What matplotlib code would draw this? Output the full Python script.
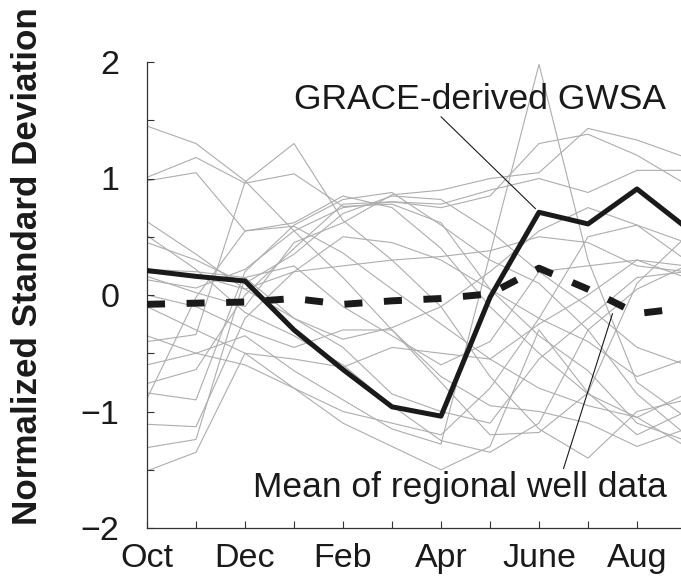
import numpy as np
import matplotlib.pyplot as plt

plt.rcParams['font.family'] = ['Liberation Sans', 'DejaVu Sans']

# months Oct..Sep, labels on every other tick
months = ['Oct', 'Nov', 'Dec', 'Jan', 'Feb', 'Mar', 'Apr', 'May', 'June', 'Jul', 'Aug', 'Sep']
month_labels = ['Oct', '', 'Dec', '', 'Feb', '', 'Apr', '', 'June', '', 'Aug', '']

# GRACE-derived groundwater storage anomaly (normalized)
grace = [0.21, 0.16, 0.12, -0.30, -0.64, -0.96, -1.04, -0.02, 0.71, 0.61, 0.91, 0.58]

# mean of the regional wells
well_mean = [-0.08, -0.07, -0.06, -0.03, -0.08, -0.05, -0.03, 0.01, 0.23, 0.05, -0.16, -0.11]

# individual wells (normalized)
wells = [
    [1.45, 1.30, 0.98, 0.55, 0.15, -0.30, -0.70, -0.95, -1.00, -1.10, -1.30, -1.15],
    [1.01, 1.18, 0.96, 1.04, 0.76, 0.78, 0.62, 0.05, -0.35, -0.65, -1.10, -1.25],
    [0.98, 1.05, 0.55, 0.59, 0.36, 0.05, -0.25, -0.55, -0.80, -0.95, -1.05, -0.85],
    [0.63, 0.35, 0.05, -0.20, -0.45, -0.85, -1.00, -1.10, -0.55, -0.20, 0.15, 0.20],
    [0.51, 0.22, -0.15, -0.35, -0.60, -0.95, -1.25, -1.35, -1.10, -0.30, 0.05, 0.25],
    [0.22, 0.20, 0.15, -0.20, -0.38, -0.28, -0.10, 0.20, 0.55, 0.75, 0.60, 0.45],
    [0.19, 0.17, 0.05, 0.20, 0.25, 0.30, 0.33, 0.38, 0.50, 0.45, 0.25, 0.20],
    [0.16, 0.02, -0.10, 0.45, 0.62, 0.86, 0.90, 1.00, 1.05, 1.43, 1.33, 1.18],
    [0.13, 0.06, 0.22, 0.55, 0.75, 0.80, 0.78, 0.90, 1.00, 0.88, 1.07, 1.07],
    [-0.10, -0.30, -0.50, -0.55, -0.62, -0.45, -0.50, -0.55, -0.25, 0.00, 0.30, 0.15],
    [-0.40, -0.34, 0.97, 1.30, 0.64, 0.30, -0.10, -0.70, -1.15, -1.40, -1.00, -0.90],
    [-0.60, -0.50, -0.35, -0.65, -0.90, -1.15, -1.28, 0.35, 1.98, 0.30, -0.75, -1.05],
    [-0.76, -0.64, 0.00, 0.40, 0.78, 0.80, 0.75, 0.85, 1.30, 1.38, 1.20, 0.95],
    [-0.84, -0.90, 0.20, 0.60, 0.82, 0.88, 0.60, 0.30, 0.10, -0.30, -0.85, -1.20],
    [-0.89, -0.02, 0.55, 0.62, 0.85, 0.75, 0.40, -0.10, -0.50, -0.85, -1.05, -1.30],
    [-1.11, -1.13, -0.20, 0.20, 0.50, 0.45, 0.30, 0.05, -0.20, -0.40, -0.70, -0.55],
    [-1.31, -1.24, 0.15, 0.25, -0.10, -0.35, -0.60, -0.40, 0.20, 0.25, 0.30, 0.25],
    [-1.51, -1.35, -0.50, -0.80, -1.10, -1.30, -1.50, -1.30, -0.30, -0.84, 0.10, 0.50],
    [-0.35, -0.50, -0.60, -0.80, -1.00, -1.10, -1.20, -0.80, -0.20, 0.50, 0.60, 0.30],
    [0.00, -0.10, -0.30, -0.45, -0.30, -0.30, -0.75, -1.20, -1.18, -0.84, -1.20, -1.00],
    [0.45, 0.30, 0.10, 0.35, 0.70, 0.85, 0.82, 0.55, 0.20, -0.10, -0.45, -0.60],
]

W, H = 681, 580
fig = plt.figure(figsize=(W / 100, H / 100), dpi=100)
# axes runs a little past the right edge of the picture (Sep is cut off)
ax = fig.add_axes([147 / W, 52 / H, 539 / W, 466 / H])

x = np.arange(len(months))
for w in wells:
    ax.plot(x, w, color='#adadad', lw=0.8, zorder=1)

ax.plot(x, grace, color='#1a1a1a', lw=3.6, zorder=3)
ax.plot(x, well_mean, color='#1a1a1a', lw=5, dashes=(2.6, 3.1),
        dash_capstyle='butt', zorder=3)

ax.set_xlim(0, 11)
ax.set_ylim(-2, 2)
ax.set_xticks(x)
ax.set_xticklabels(month_labels)
ax.set_yticks(np.arange(-2, 2.01, 0.5))
ax.set_yticklabels(['\u22122', '', '\u22121', '', '0', '', '1', '', '2'])

for side in ['top', 'right']:
    ax.spines[side].set_visible(False)
for side in ['left', 'bottom']:
    ax.spines[side].set_color('#333333')
    ax.spines[side].set_linewidth(0.9)

ax.tick_params(direction='in', length=5, width=0.8, color='#333333',
               labelsize=24.5, labelcolor='#1a1a1a')
ax.tick_params(axis='y', pad=20)
ax.tick_params(axis='x', pad=11)

# labels with leader lines
ax.text(6.8, 1.60, 'GRACE-derived GWSA', fontsize=25.5, ha='center',
        va='baseline', color='#1a1a1a')
ax.annotate('', xy=(7.93, grace[8] + 0.03), xytext=(6.0, 1.53),
            arrowprops=dict(arrowstyle='-', lw=0.8, color='#1a1a1a',
                            shrinkA=0, shrinkB=0))

ax.text(6.39, -1.73, 'Mean of regional well data', fontsize=25.5,
        ha='center', va='baseline', color='#1a1a1a')
ax.annotate('', xy=(9.5, -0.16), xytext=(8.5, -1.49),
            arrowprops=dict(arrowstyle='-', lw=0.8, color='#1a1a1a',
                            shrinkA=0, shrinkB=0))

fig.text(28 / W, 1 - 266 / H, 'Normalized Standard Deviation', rotation=90,
         fontsize=25.2, fontweight='bold', ha='center', va='center',
         color='#1a1a1a')

fig.savefig('out.png', dpi=100)
